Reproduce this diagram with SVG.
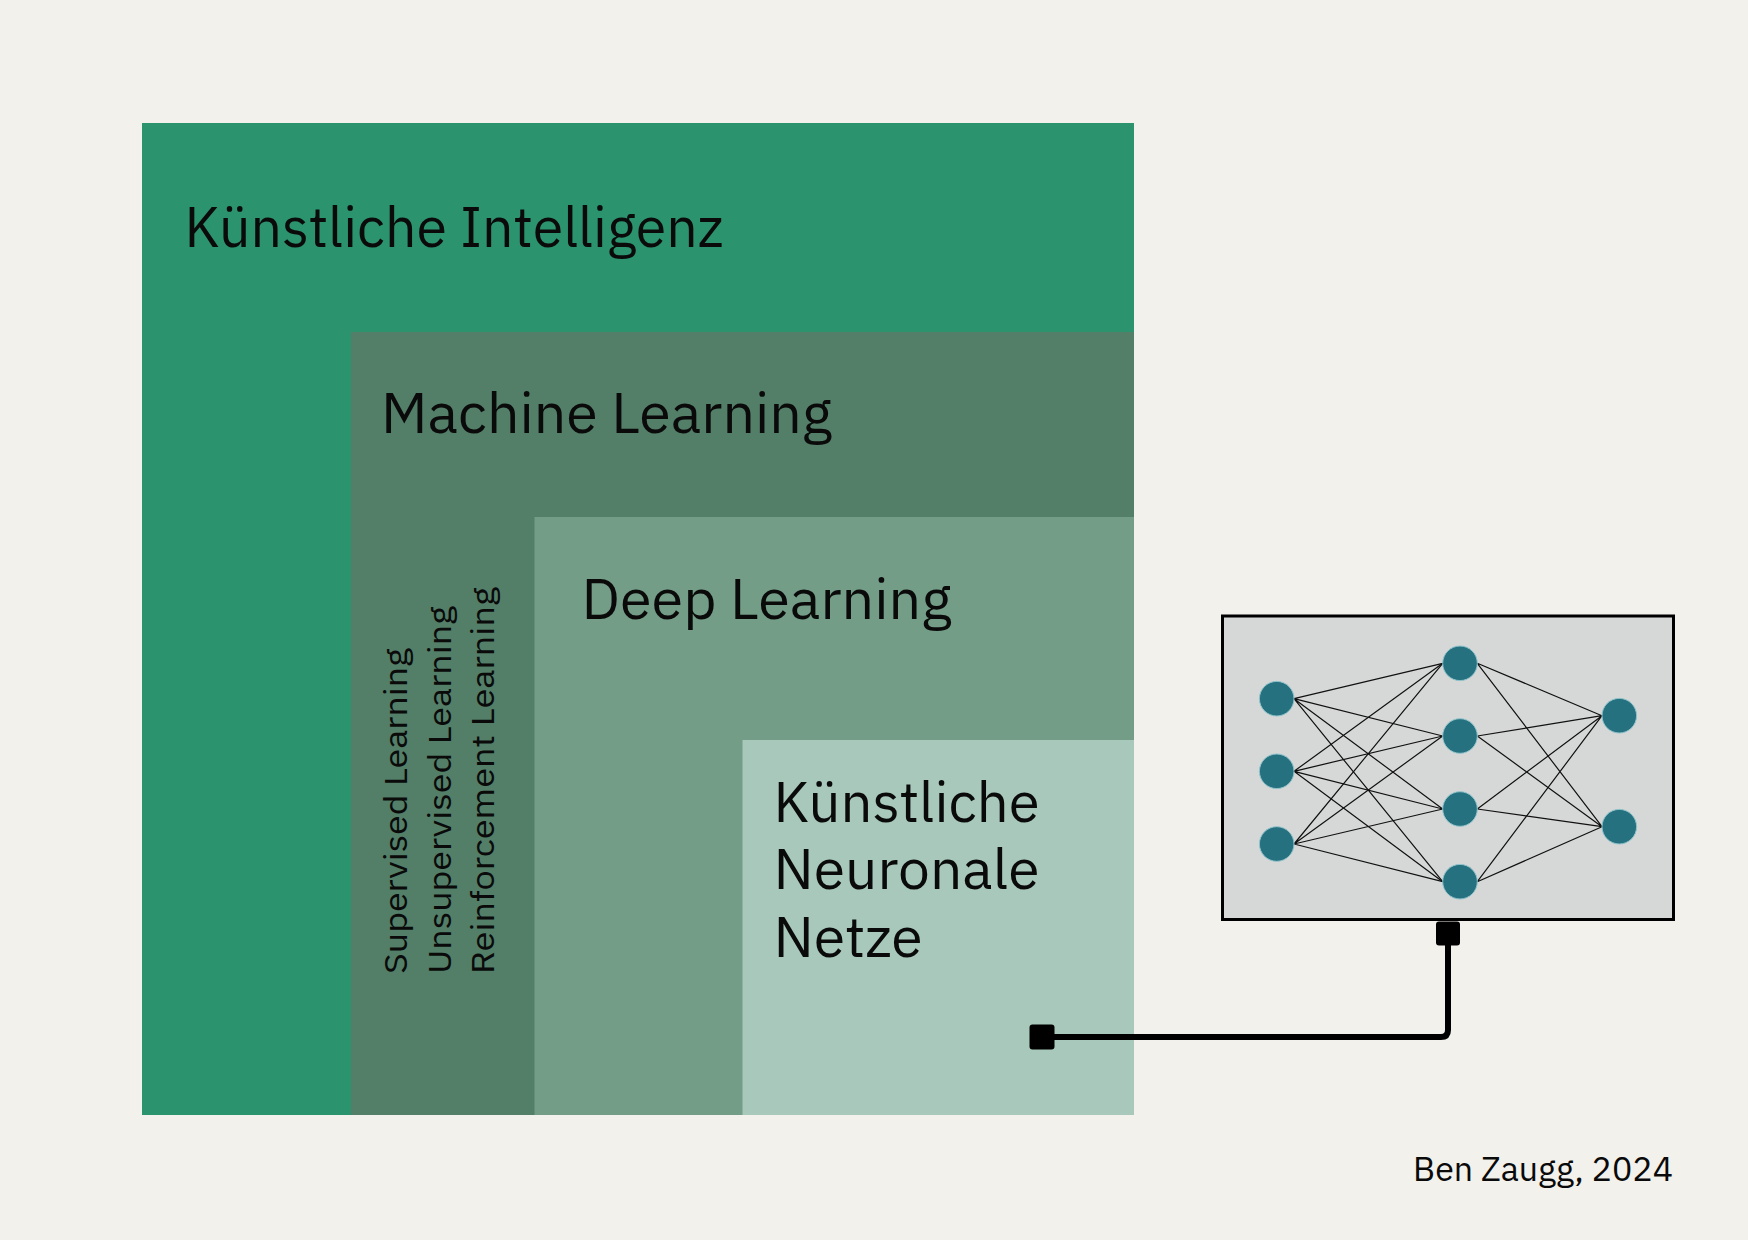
<svg xmlns="http://www.w3.org/2000/svg" width="1748" height="1240" viewBox="0 0 1748 1240">
<style>
.t{font-family:"IBM Plex Sans","Open Sans","Noto Sans","Liberation Sans",sans-serif;fill:#0a0a0a}
.big{font-size:57px}
.side{font-size:31px}
.syn{stroke:#111;stroke-width:1.2;fill:none}
.neu{fill:#26717f;stroke:#8fc3cc;stroke-width:1}
.con{stroke:#000;stroke-width:6;fill:none;stroke-linejoin:round}
</style>
<rect x="0" y="0" width="1748" height="1240" fill="#f2f1ec"/>
<g id="ki">
<rect x="142" y="123" width="992" height="992" fill="#2c936f"/>
<text class="t big" x="184.5" y="247" textLength="539" lengthAdjust="spacingAndGlyphs">Künstliche Intelligenz</text>
</g>
<g id="ml">
<rect x="351" y="332" width="783" height="783" fill="#537e68"/>
<text class="t big" x="381" y="433" textLength="451" lengthAdjust="spacingAndGlyphs">Machine Learning</text>
<text class="t side" transform="translate(407,974) rotate(-90)" textLength="326" lengthAdjust="spacingAndGlyphs">Supervised Learning</text>
<text class="t side" transform="translate(450.5,974) rotate(-90)" textLength="368" lengthAdjust="spacingAndGlyphs">Unsupervised Learning</text>
<text class="t side" transform="translate(494,974) rotate(-90)" textLength="387" lengthAdjust="spacingAndGlyphs">Reinforcement Learning</text>
</g>
<g id="dl">
<rect x="534.5" y="517" width="599.5" height="598" fill="#739d87"/>
<text class="t big" x="581.5" y="619" textLength="370" lengthAdjust="spacingAndGlyphs">Deep Learning</text>
</g>
<g id="knn">
<rect x="742.5" y="740" width="391.5" height="375" fill="#a7c8ba"/>
<text class="t big" x="773.5" y="822" textLength="266" lengthAdjust="spacingAndGlyphs">Künstliche</text>
<text class="t big" x="773.5" y="889" textLength="266" lengthAdjust="spacingAndGlyphs">Neuronale</text>
<text class="t big" x="773.5" y="957" textLength="149" lengthAdjust="spacingAndGlyphs">Netze</text>
</g>
<g id="nn">
<rect x="1222.5" y="616" width="451" height="303.5" fill="#d6d8d7" stroke="#000" stroke-width="3"/>
<g class="syn">
<path d="M1294,698.7L1442.7,663.3M1294,698.7L1442.7,736M1294,698.7L1442.7,809M1294,698.7L1442.7,881.7"/>
<path d="M1294,771.3L1442.7,663.3M1294,771.3L1442.7,736M1294,771.3L1442.7,809M1294,771.3L1442.7,881.7"/>
<path d="M1294,844L1442.7,663.3M1294,844L1442.7,736M1294,844L1442.7,809M1294,844L1442.7,881.7"/>
<path d="M1477.3,663.3L1602,715.7M1477.3,663.3L1602,826.7M1477.3,736L1602,715.7M1477.3,736L1602,826.7M1477.3,809L1602,715.7M1477.3,809L1602,826.7M1477.3,881.7L1602,715.7M1477.3,881.7L1602,826.7"/>
</g>
<circle class="neu" cx="1276.7" cy="698.7" r="17.3"/>
<circle class="neu" cx="1276.7" cy="771.3" r="17.3"/>
<circle class="neu" cx="1276.7" cy="844" r="17.3"/>
<circle class="neu" cx="1460" cy="663.3" r="17.3"/>
<circle class="neu" cx="1460" cy="736" r="17.3"/>
<circle class="neu" cx="1460" cy="809" r="17.3"/>
<circle class="neu" cx="1460" cy="881.7" r="17.3"/>
<circle class="neu" cx="1619.3" cy="715.7" r="17.3"/>
<circle class="neu" cx="1619.3" cy="826.7" r="17.3"/>
</g>
<g id="connectors">
<path class="con" d="M1042,1037H1441Q1448,1037 1448,1030V934"/>
<rect x="1029.5" y="1024.5" width="25" height="25" rx="3" fill="#000"/>
<rect x="1436" y="921.5" width="24" height="24" rx="3" fill="#000"/>
</g>
<g id="credit">
<text class="t" x="1413" y="1181" font-size="33" textLength="260" lengthAdjust="spacingAndGlyphs">Ben Zaugg, 2024</text>
</g>
</svg>
